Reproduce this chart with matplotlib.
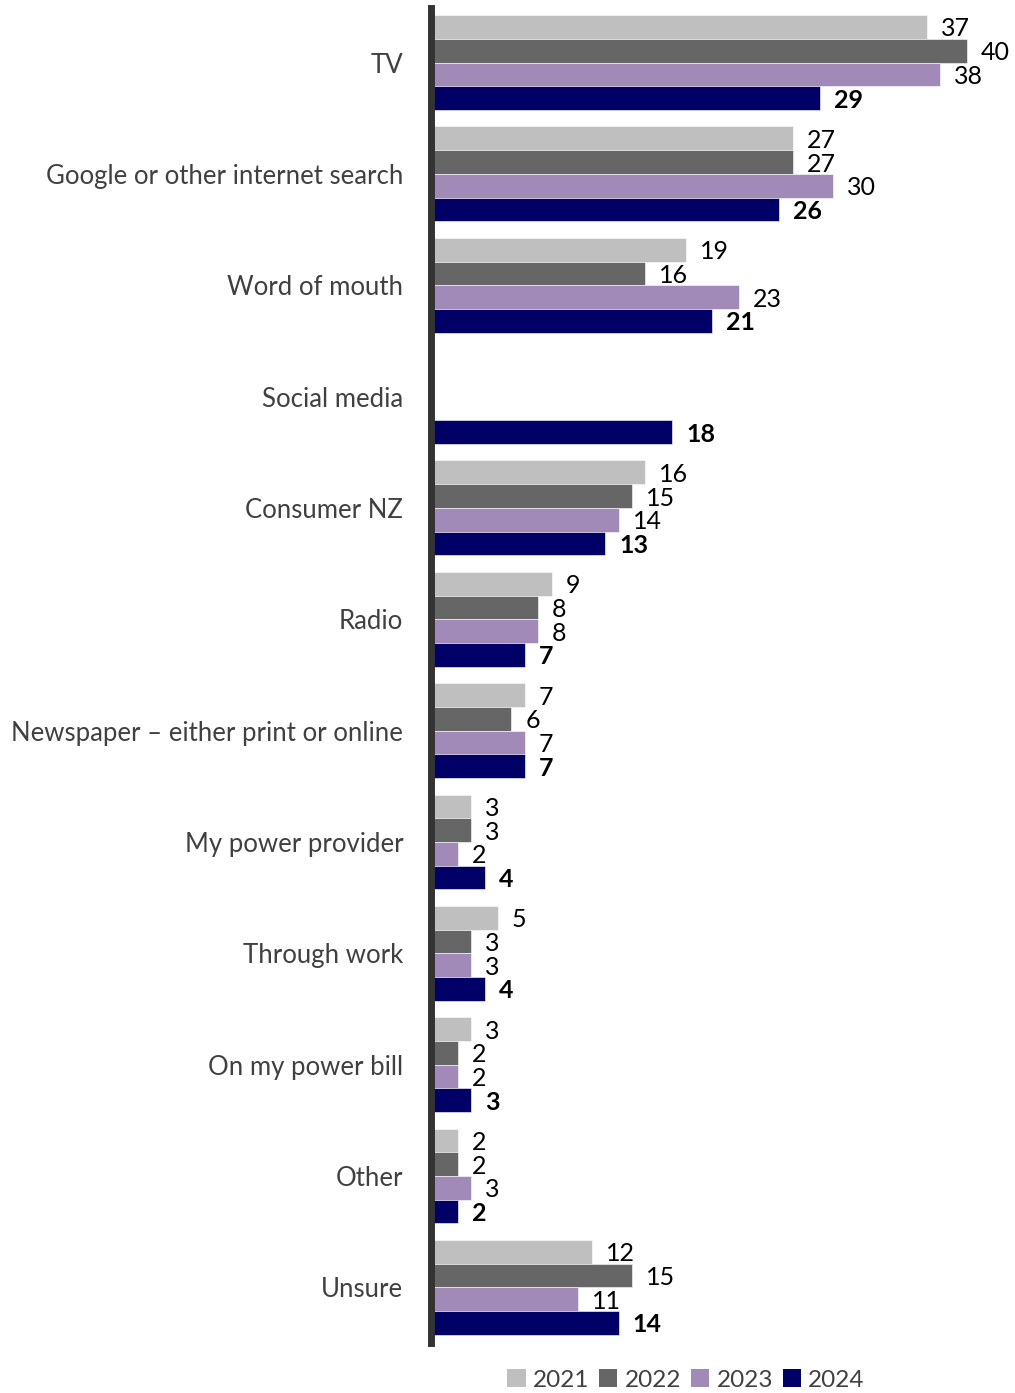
import numpy as np
import matplotlib
matplotlib.use("Agg")
import matplotlib.pyplot as plt
from matplotlib.patches import Patch

plt.rcParams['font.family'] = ['Lato', 'DejaVu Sans']

categories = ["TV", "Google or other internet search", "Word of mouth", "Social media",
              "Consumer NZ", "Radio", "Newspaper \u2013 either print or online",
              "My power provider", "Through work", "On my power bill", "Other", "Unsure"]
years = ["2021", "2022", "2023", "2024"]
v2021 = [37, 27, 19, np.nan, 16, 9, 7, 3, 5, 3, 2, 12]
v2022 = [40, 27, 16, np.nan, 15, 8, 6, 3, 3, 2, 2, 15]
v2023 = [38, 30, 23, np.nan, 14, 8, 7, 2, 3, 2, 3, 11]
v2024 = [29, 26, 21, 18, 13, 7, 7, 4, 4, 3, 2, 14]
series = [v2021, v2022, v2023, v2024]
colors = ["#BFBFBF", "#666666", "#A18AB7", "#000066"]

fig = plt.figure(figsize=(10.15, 13.93), dpi=100)
ax = fig.add_axes([431/1015, 1 - 1343/1393, (1000 - 431)/1015, 1335/1393])

h = 0.213
y = np.arange(len(categories))
for i, (vals, c) in enumerate(zip(series, colors)):
    pos = y + (i - 1.5) * h
    vals = np.array(vals, dtype=float)
    ax.barh(pos, vals, height=h, color=c, edgecolor="white", linewidth=0.4, zorder=2)
    for p, v in zip(pos, vals):
        if np.isnan(v):
            continue
        ax.annotate(f"{int(v)}", xy=(v, p), xytext=(14, -2), textcoords="offset pixels",
                    ha="left", va="center", fontsize=18, color="black",
                    fontweight="bold" if i == 3 else "normal")

ax.set_xlim(0, 569/13.4)
ax.set_ylim(11.5, -0.49)
ax.set_yticks(y)
ax.set_yticklabels(categories, fontsize=18.5, color="#404040")
ax.tick_params(axis="y", length=0, pad=20)
ax.set_xticks([])
for s in ["top", "right", "bottom"]:
    ax.spines[s].set_visible(False)
ax.spines["left"].set_linewidth(5)
ax.spines["left"].set_color("#333333")
ax.spines["left"].set_zorder(5)

handles = [Patch(facecolor=c, edgecolor="none") for c in colors]
fig.legend(handles, years, loc="center", bbox_to_anchor=(686/1015, 1 - 1380/1393),
           ncol=4, frameon=False, fontsize=17.5, handlelength=0.75, handleheight=0.75,
           handletextpad=0.3, columnspacing=0.4, labelcolor="#404040")

fig.savefig("out.png", dpi=100)
